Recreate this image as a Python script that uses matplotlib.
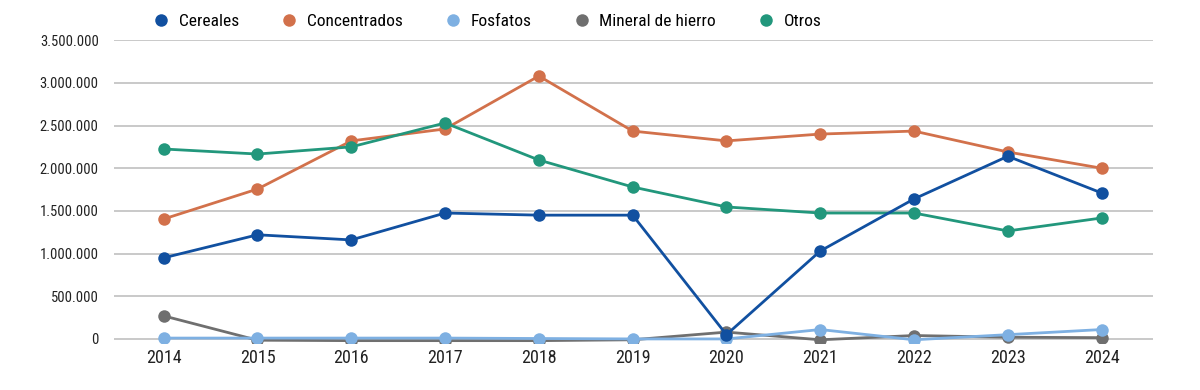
import matplotlib.pyplot as plt
from matplotlib.ticker import FuncFormatter, MultipleLocator
from matplotlib import font_manager

# Buscar una fuente condensada instalada
nombres = {f.name for f in font_manager.fontManager.ttflist}
fuente = 'DejaVu Sans'
for candidata in ['Roboto Condensed', 'Liberation Sans Narrow', 'Open Sans Condensed',
                  'DejaVu Sans Condensed', 'Noto Sans Condensed']:
    if candidata in nombres:
        fuente = candidata
        break
plt.rcParams['font.family'] = [fuente, 'DejaVu Sans']
plt.rcParams['font.stretch'] = 'condensed'

anios = [2014, 2015, 2016, 2017, 2018, 2019, 2020, 2021, 2022, 2023, 2024]
cereales = [950000, 1220000, 1160000, 1475000, 1450000, 1450000, 50000, 1030000, 1640000, 2140000, 1710000]
concentrados = [1405000, 1756000, 2320000, 2460000, 3080000, 2435000, 2320000, 2400000, 2435000, 2190000, 2000000]
fosfatos = [10000, 10000, 10000, 10000, 5000, 0, 0, 110000, -10000, 50000, 110000]
hierro = [270000, -15000, -20000, -20000, -20000, -10000, 80000, -10000, 40000, 20000, 15000]
otros = [2225000, 2166000, 2250000, 2530000, 2096000, 1780000, 1546000, 1475000, 1475000, 1265000, 1417000]

series = [
    ('Cereales', cereales, '#1150a0'),
    ('Concentrados', concentrados, '#d2714b'),
    ('Fosfatos', fosfatos, '#7eb0e2'),
    ('Mineral de hierro', hierro, '#6f6f6f'),
    ('Otros', otros, '#22977c'),
]
orden_dibujo = [3, 2, 1, 4, 0]

fig = plt.figure(figsize=(12, 3.9), dpi=100)
ax = fig.add_axes([0.095, 0.12, 0.866, 0.777])

lineas = {}
for i in orden_dibujo:
    nombre, datos, color = series[i]
    l, = ax.plot(anios, datos, color=color, lw=2, marker='o', ms=9,
                 markeredgewidth=0, label=nombre, zorder=3 + orden_dibujo.index(i))
    lineas[i] = l

ax.set_ylim(-50000, 3500000)
ax.set_xlim(2013.47, 2024.55)
ax.yaxis.set_major_locator(MultipleLocator(500000))
ax.yaxis.set_major_formatter(FuncFormatter(lambda v, p: f'{int(v):,}'.replace(',', '.')))
ax.set_xticks(anios)
ax.grid(axis='y', color='#c9c9c9', lw=1.4)
ax.set_axisbelow(True)
for s in ax.spines.values():
    s.set_visible(False)
ax.tick_params(axis='both', length=0, colors='#222222')
ax.tick_params(axis='y', labelsize=10.5, pad=11)
ax.tick_params(axis='x', labelsize=13, pad=4)

handles = [lineas[i] for i in range(5)]
fig.legend(handles, [s[0] for s in series], loc='center left',
           bbox_to_anchor=(0.123, 0.945), ncol=5, frameon=False,
           fontsize=12.5, handlelength=0.8, handletextpad=0.6, columnspacing=2.5,
           borderaxespad=0)
for h in fig.legends[0].legend_handles:
    h.set_linestyle('none')

fig.savefig('out.png', dpi=100)
